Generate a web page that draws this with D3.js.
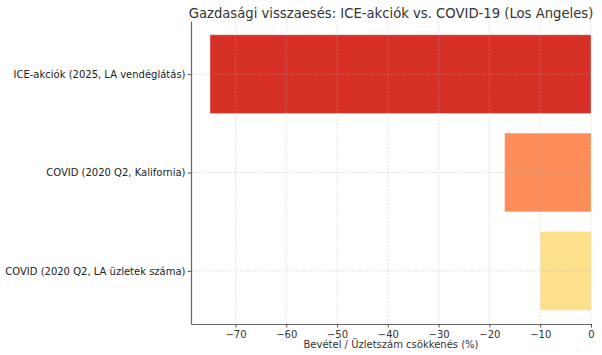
<!DOCTYPE html>
<html><head><meta charset="utf-8">
<script src="https://cdn.jsdelivr.net/npm/d3@7"></script>
<style>body{margin:0;background:#fff}svg{display:block}text{font-family:"DejaVu Sans",sans-serif}</style>
</head><body>
<script>
const categories = ["ICE-akciók (2025, LA vendéglátás)", "COVID (2020 Q2, Kalifornia)", "COVID (2020 Q2, LA üzletek száma)"];
const values = [-75, -17, -10];
const colors = ["#d73027", "#fc8d59", "#fee08b"];
const xTicks = [-70, -60, -50, -40, -30, -20, -10, 0];
const title = "Gazdasági visszaesés: ICE-akciók vs. COVID-19 (Los Angeles)";
const xLabel = "Bevétel / Üzletszám csökkenés (%)";

const W = 602, H = 355;
const m = {left: 191, right: 11, top: 21, bottom: 31};
const svg = d3.select("body").append("svg").attr("width", W).attr("height", H);

const x = d3.scaleLinear().domain([-78.75, 0]).range([m.left, W - m.right]);
const yIdx = d3.scaleLinear().domain([-0.54, 2.54]).range([m.top, H - m.bottom]);
const bw = yIdx(0.4) - yIdx(-0.4);

// bars
svg.append("g").selectAll("rect").data(values).join("rect")
  .attr("x", d => x(d)).attr("width", d => x(0) - x(d))
  .attr("y", (d, i) => yIdx(i) - bw / 2).attr("height", bw)
  .attr("fill", (d, i) => colors[i])
  .attr("stroke", "#fff").attr("stroke-opacity", 0.35).attr("stroke-width", 0.8);

// grid (on top)
const grid = svg.append("g").attr("stroke", "#b0b0b0").attr("stroke-opacity", 0.45)
  .attr("stroke-dasharray", "2,1.5").attr("stroke-width", 0.8);
grid.selectAll("line.v").data(xTicks).join("line").attr("class", "v")
  .attr("x1", d => x(d)).attr("x2", d => x(d)).attr("y1", m.top).attr("y2", H - m.bottom);
grid.selectAll("line.h").data(categories).join("line").attr("class", "h")
  .attr("y1", (d, i) => yIdx(i)).attr("y2", (d, i) => yIdx(i)).attr("x1", m.left).attr("x2", W - m.right);

// x axis
const xAxis = svg.append("g").attr("transform", `translate(0,${H - m.bottom})`)
  .call(d3.axisBottom(x).tickValues(xTicks).tickFormat(d => d < 0 ? "\u2212" + Math.abs(d) : d).tickSize(3.5).tickSizeOuter(0).tickPadding(3));
xAxis.select(".domain").attr("stroke", "#666").attr("stroke-width", 1.2);
xAxis.selectAll(".tick line").attr("stroke", "#555");
xAxis.selectAll("text").attr("font-size", 10).attr("fill", "#333");

// y axis
const yAxis = svg.append("g").attr("transform", `translate(${m.left},0)`)
  .call(d3.axisLeft(yIdx).tickValues([0, 1, 2]).tickFormat(i => categories[i]).tickSize(3.5).tickSizeOuter(0).tickPadding(2));
yAxis.select(".domain").attr("stroke", "#666").attr("stroke-width", 1.2);
yAxis.selectAll(".tick line").attr("stroke", "#555");
yAxis.selectAll("text").attr("font-size", 10).attr("fill", "#222");

// labels
svg.append("text").attr("x", x(-39.375)).attr("y", 17.5).attr("text-anchor", "middle")
  .attr("font-size", 13.2).attr("fill", "#333").text(title);
svg.append("text").attr("x", x(-39.375)).attr("y", 348).attr("text-anchor", "middle")
  .attr("font-size", 10).attr("fill", "#333").text(xLabel);
</script>
</body></html>
